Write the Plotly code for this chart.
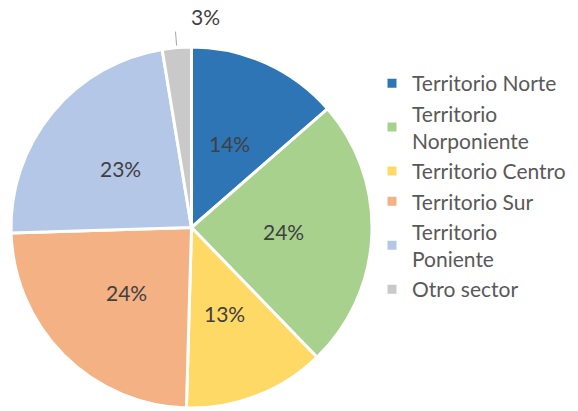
import math
import plotly.graph_objects as go

# ---- data ----
categories = ["Territorio Norte", "Territorio<br>Norponiente", "Territorio Centro",
              "Territorio Sur", "Territorio<br>Poniente", "Otro sector"]
values = [13.6, 24.2, 12.7, 24.1, 22.9, 2.6]
colors = ["#2E75B6", "#A9D18E", "#FFD966", "#F4B183", "#B4C7E7", "#C9C9C9"]

# ---- geometry (pixels) ----
W, H = 578, 411
CX, CY, R = 191.5, 227.5, 180.5
FONT = "Lato"
LABEL_FONT = dict(family=FONT, size=21, color="#404040")

total = sum(values)
pct_text = [f"{round(v / total * 100)}%" for v in values]

fig = go.Figure(go.Pie(
    labels=categories,
    values=values,
    sort=False,
    direction="clockwise",
    rotation=0,
    marker=dict(colors=colors, line=dict(color="white", width=3)),
    textinfo="none",
    domain=dict(x=[(CX - R) / W, (CX + R) / W], y=[1 - (CY + R) / H, 1 - (CY - R) / H]),
    hoverinfo="label+percent",
))


def polar(frac, r):
    a = frac * 2 * math.pi
    return CX + r * math.sin(a), CY - r * math.cos(a)


cum = 0.0
for i, v in enumerate(values):
    mid = (cum + v / 2) / total
    cum += v
    if i < len(values) - 1:
        px, py = polar(mid, 0.51 * R)
        fig.add_annotation(xref="paper", yref="paper", x=px / W, y=1 - py / H,
                           xanchor="center", yanchor="middle",
                           text=pct_text[i], showarrow=False, font=LABEL_FONT)
    else:
        # small slice: outside label with radial leader line
        x0, y0 = polar(mid, R + 2)
        x1, y1 = polar(mid, R + 16)
        fig.add_shape(type="line", xref="paper", yref="paper",
                      x0=x0 / W, y0=1 - y0 / H, x1=x1 / W, y1=1 - y1 / H,
                      line=dict(color="#A6A6A6", width=1))
        fig.add_annotation(xref="paper", yref="paper", x=(x1 + 30) / W, y=1 - (y1 - 15) / H,
                           xanchor="center", yanchor="middle",
                           text=pct_text[i], showarrow=False, font=LABEL_FONT)

fig.update_layout(
    width=W, height=H,
    margin=dict(l=0, r=0, t=0, b=0),
    paper_bgcolor="white",
    showlegend=True,
    legend=dict(x=372 / W, xanchor="left", y=1 - 63 / H, yanchor="top",
                font=dict(family=FONT, size=21, color="#595959"),
                bgcolor="rgba(0,0,0,0)"),
)

fig.write_html("out.html", config={"displayModeBar": False},
               post_script="document.body.style.margin='0';")
